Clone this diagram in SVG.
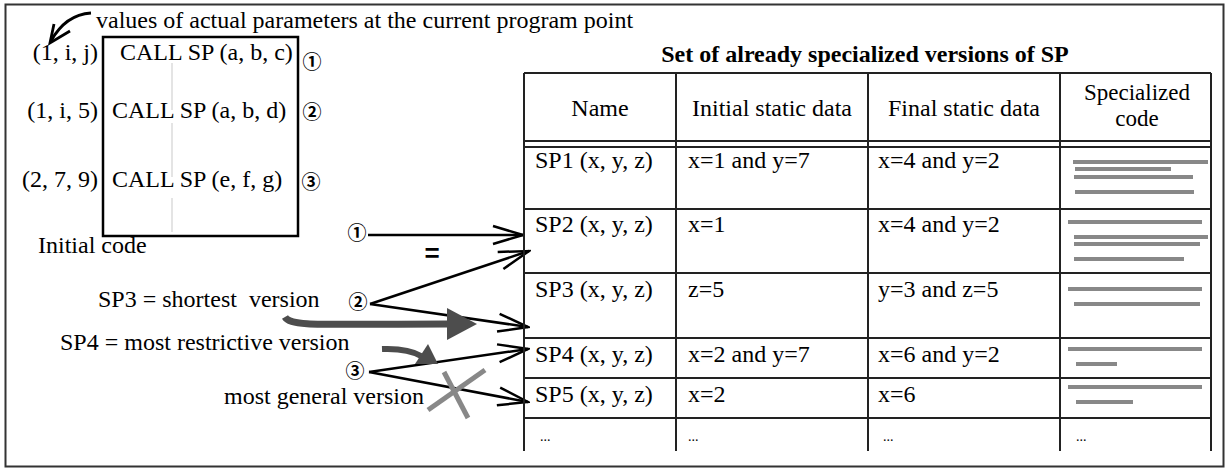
<svg xmlns="http://www.w3.org/2000/svg" width="1230" height="470" viewBox="0 0 1230 470">
<defs>
<marker id="openV" markerUnits="userSpaceOnUse" markerWidth="34" markerHeight="22" viewBox="0 0 34 22" refX="32" refY="11" orient="auto">
<path d="M2,2 L32,11 L2,20" fill="none" stroke="#000" stroke-width="2.5" stroke-linejoin="miter"/>
</marker>
</defs>
<style>
text{font-family:"Liberation Serif","Times New Roman",serif;font-size:24px;fill:#000}
.b{font-weight:bold}
.m{text-anchor:middle}
.e{text-anchor:end}
.circ{font-family:"Noto Sans CJK JP","DejaVu Sans",sans-serif;font-size:19px;font-weight:bold;text-anchor:middle}
.tl{stroke:#222;stroke-width:2;fill:none}
.bar{fill:#888}
.conn{stroke:#000;stroke-width:2.5;fill:none}
.gray{stroke:#4d4d4d;fill:none;stroke-linecap:butt}
.dots{font-size:14px}
</style>
<rect x="5.5" y="4.5" width="1218" height="462" fill="#fff" stroke="#333" stroke-width="2"/>

<g id="pointer-note">
<text x="96" y="28">values of actual parameters at the current program point</text>
<path d="M91,13 C76,14 62,21 51,41" fill="none" stroke="#000" stroke-width="2.8"/>
<path d="M54,24 L50,43 L70,31" fill="none" stroke="#000" stroke-width="2.8" stroke-linejoin="miter"/>
</g>

<g id="initial-code">
<rect x="103" y="37" width="195" height="199" fill="none" stroke="#000" stroke-width="2.5"/>
<g stroke="#e4e4e4" stroke-width="2">
<line x1="172" y1="63" x2="172" y2="110"/>
<line x1="172" y1="123" x2="172" y2="177"/>
<line x1="172" y1="198" x2="172" y2="232"/>
</g>
<text class="e" x="98" y="60">(1, i, j)</text>
<text x="120" y="60">CALL SP (a, b, c)</text>
<text class="circ" x="312" y="69">①</text>
<text class="e" x="98" y="118">(1, i, 5)</text>
<text x="112" y="118">CALL SP (a, b, d)</text>
<text class="circ" x="312" y="119">②</text>
<text class="e" x="98" y="187">(2, 7, 9)</text>
<text x="112" y="187">CALL SP (e, f, g)</text>
<text class="circ" x="311" y="189">③</text>
<text x="38" y="253">Initial code</text>
</g>

<g id="annotations">
<text x="98" y="307" xml:space="preserve">SP3 = shortest  version</text>
<text x="60" y="350">SP4 = most restrictive version</text>
<text x="224" y="404">most general version</text>
<text class="circ" x="357" y="240">①</text>
<text class="circ" x="358" y="309">②</text>
<text class="circ" x="355" y="378">③</text>
<text class="b" x="432" y="262" style="font-family:'Liberation Sans',Arial,sans-serif;font-size:26px;text-anchor:middle">=</text>
</g>

<g id="connectors">
<line class="conn" x1="368" y1="235" x2="523" y2="235" marker-end="url(#openV)"/>
<line class="conn" x1="370" y1="304" x2="529" y2="251" marker-end="url(#openV)"/>
<line class="conn" x1="370" y1="304" x2="528" y2="327" marker-end="url(#openV)"/>
<line class="conn" x1="369" y1="372" x2="528" y2="349" marker-end="url(#openV)"/>
<line class="conn" x1="369" y1="372" x2="528" y2="402" marker-end="url(#openV)"/>
<path class="gray" d="M285,317 C291,327 320,324 448,324" stroke-width="7"/>
<polygon points="447,308 477,324 447,340" fill="#4d4d4d"/>
<path class="gray" d="M382,349 Q408,348 421,356" stroke-width="6"/>
<polygon points="415,364 428,344 438,364" fill="#4d4d4d"/>
<g stroke="#888" stroke-width="5">
<line x1="428" y1="410" x2="485" y2="370"/>
<line x1="444" y1="372" x2="468" y2="418"/>
</g>
</g>

<g id="specialized-table">
<text class="b m" x="865" y="62">Set of already specialized versions of SP</text>
<path class="tl" d="M524,73 H1211 M524,141 H1211 M524,147 H1211 M524,209 H1211 M524,273 H1211 M524,338 H1211 M524,378 H1211 M524,418 H1211"/>
<path class="tl" d="M524,73 V451 M676,73 V451 M868,73 V451 M1060,73 V451 M1211,73 V451"/>
<g id="header">
<text class="m" x="600" y="116">Name</text>
<text class="m" x="772" y="116">Initial static data</text>
<text class="m" x="964" y="116">Final static data</text>
<text class="m" x="1137" y="100" style="font-size:23px">Specialized</text>
<text class="m" x="1137" y="126" style="font-size:23px">code</text>
</g>
<g id="row-sp1">
<text x="535" y="168">SP1 (x, y, z)</text>
<text x="688" y="168">x=1 and y=7</text>
<text x="878" y="168">x=4 and y=2</text>
<rect class="bar" x="1073" y="160" width="135" height="4"/>
<rect class="bar" x="1075" y="167" width="96" height="4"/>
<rect class="bar" x="1074" y="175" width="119" height="4"/>
<rect class="bar" x="1075" y="190" width="119" height="4"/>
</g>
<g id="row-sp2">
<text x="535" y="232">SP2 (x, y, z)</text>
<text x="688" y="232">x=1</text>
<text x="878" y="232">x=4 and y=2</text>
<rect class="bar" x="1068" y="220" width="134" height="4"/>
<rect class="bar" x="1074" y="235" width="134" height="4"/>
<rect class="bar" x="1074" y="242" width="126" height="4"/>
<rect class="bar" x="1074" y="257" width="110" height="4"/>
</g>
<g id="row-sp3">
<text x="535" y="297">SP3 (x, y, z)</text>
<text x="688" y="297">z=5</text>
<text x="878" y="297">y=3 and z=5</text>
<rect class="bar" x="1068" y="287" width="134" height="4"/>
<rect class="bar" x="1074" y="302" width="126" height="4"/>
</g>
<g id="row-sp4">
<text x="535" y="362">SP4 (x, y, z)</text>
<text x="688" y="362">x=2 and y=7</text>
<text x="878" y="362">x=6 and y=2</text>
<rect class="bar" x="1068" y="347" width="134" height="4"/>
<rect class="bar" x="1076" y="362" width="41" height="4"/>
</g>
<g id="row-sp5">
<text x="535" y="402">SP5 (x, y, z)</text>
<text x="688" y="402">x=2</text>
<text x="878" y="402">x=6</text>
<rect class="bar" x="1068" y="385" width="134" height="4"/>
<rect class="bar" x="1076" y="400" width="57" height="4"/>
</g>
<g id="row-more">
<text class="dots" x="540" y="441">...</text>
<text class="dots" x="688" y="441">...</text>
<text class="dots" x="883" y="441">...</text>
<text class="dots" x="1076" y="441">...</text>
</g>
</g>
</svg>
